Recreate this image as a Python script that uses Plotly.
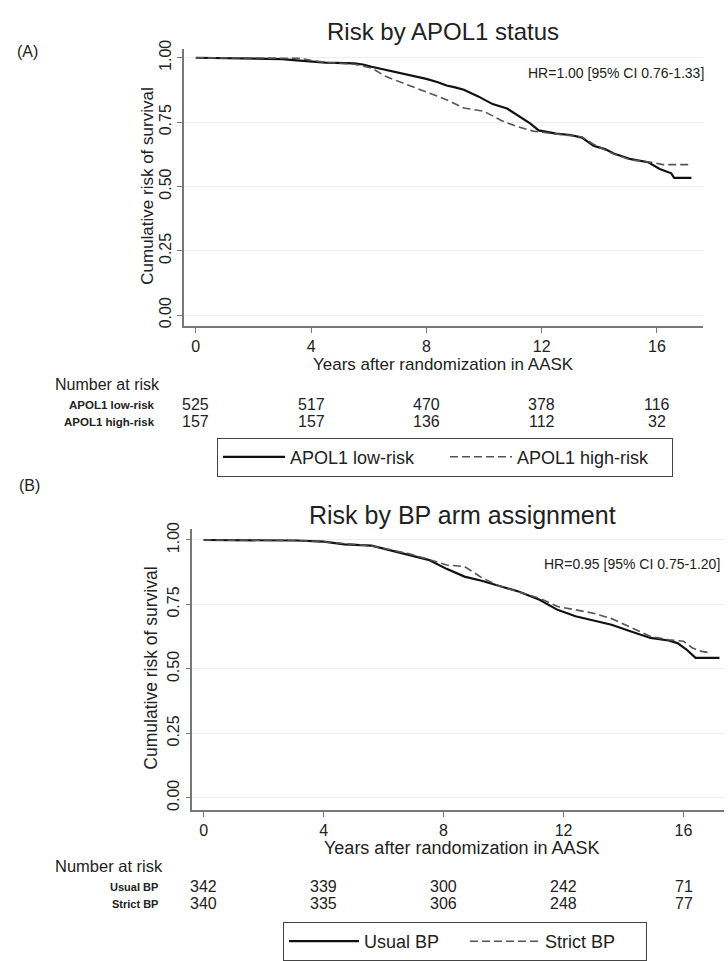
import plotly.graph_objects as go

# ---------------- data ----------------
years_ticks = [0, 4, 8, 12, 16]

# Panel A: APOL1 status
apol_low_t = [0, 1.8, 3.0, 3.5, 4.5, 5.5, 5.8, 6.1, 6.6, 7.2, 7.6, 8.0, 8.4, 8.7, 9.0, 9.3, 9.8,
              10.3, 10.8, 11.3, 11.6, 11.9, 12.5, 13.0, 13.4, 13.8, 14.2, 14.5, 15.1, 15.7, 16.1,
              16.5, 16.6, 17.2]
apol_low_s = [1.0, 0.998, 0.995, 0.99, 0.981, 0.978, 0.974, 0.965, 0.953, 0.937, 0.93, 0.918, 0.905,
              0.892, 0.885, 0.876, 0.85, 0.82, 0.803, 0.767, 0.745, 0.718, 0.705, 0.70, 0.69, 0.658,
              0.645, 0.628, 0.606, 0.594, 0.568, 0.551, 0.533, 0.533]
apol_high_t = [0, 2.0, 3.6, 4.0, 4.5, 5.5, 6.1, 6.6, 7.2, 8.0, 8.7, 9.3, 10.0, 10.6, 11.1, 11.7,
               12.5, 13.4, 13.8, 14.5, 15.1, 15.8, 16.2, 17.2]
apol_high_s = [1.0, 1.0, 0.998, 0.99, 0.982, 0.975, 0.96, 0.927, 0.901, 0.869, 0.837, 0.805, 0.792,
               0.756, 0.735, 0.715, 0.703, 0.692, 0.664, 0.626, 0.603, 0.594, 0.585, 0.585]
apol_low_risk_n = [525, 517, 470, 378, 116]
apol_high_risk_n = [157, 157, 136, 112, 32]

# Panel B: BP arm
usual_t = [0, 3.1, 4.0, 4.7, 5.6, 6.2, 6.8, 7.5, 8.1, 8.7, 9.3, 9.9, 10.5, 11.2, 11.8, 12.4, 13.0,
           13.6, 14.3, 14.9, 15.5, 15.8, 16.1, 16.4, 17.2]
usual_s = [1.0, 0.998, 0.994, 0.983, 0.978, 0.961, 0.945, 0.923, 0.888, 0.858, 0.841, 0.82, 0.80,
           0.768, 0.729, 0.704, 0.687, 0.671, 0.643, 0.62, 0.61, 0.60, 0.575, 0.543, 0.543]
strict_t = [0, 3.0, 4.0, 4.7, 5.6, 6.2, 6.8, 7.5, 8.1, 8.7, 9.3, 9.9, 10.5, 11.2, 11.8, 12.4, 13.0,
            13.6, 14.3, 14.9, 15.5, 16.0, 16.3, 16.6, 16.9]
strict_s = [1.0, 0.998, 0.993, 0.985, 0.977, 0.963, 0.948, 0.925, 0.903, 0.897, 0.852, 0.82, 0.80,
            0.774, 0.742, 0.729, 0.716, 0.695, 0.659, 0.626, 0.613, 0.607, 0.581, 0.568, 0.562]
usual_n = [342, 339, 300, 242, 71]
strict_n = [340, 335, 306, 248, 77]

# ---------------- figure ----------------
W, H = 728, 961
FONT = "Liberation Sans, Arial, sans-serif"


def px(x):
    return x / W


def py(y):
    return 1 - y / H


fig = go.Figure()

solid = dict(color="#111111", width=2.2)
dashed = dict(color="#555555", width=1.6, dash="8px,4px")

fig.add_trace(go.Scatter(x=apol_low_t, y=apol_low_s, mode="lines", line=solid,
                         name="APOL1 low-risk", xaxis="x", yaxis="y", legend="legend"))
fig.add_trace(go.Scatter(x=apol_high_t, y=apol_high_s, mode="lines", line=dashed,
                         name="APOL1 high-risk", xaxis="x", yaxis="y", legend="legend"))
fig.add_trace(go.Scatter(x=usual_t, y=usual_s, mode="lines", line=solid,
                         name="Usual BP", xaxis="x2", yaxis="y2", legend="legend2"))
fig.add_trace(go.Scatter(x=strict_t, y=strict_s, mode="lines", line=dashed,
                         name="Strict BP", xaxis="x2", yaxis="y2", legend="legend2"))

xcommon = dict(tickvals=years_ticks, ticks="outside", ticklen=5, tickcolor="#777",
               showline=True, linecolor="#777", linewidth=1.5, showgrid=False, zeroline=False,
               tickfont=dict(family=FONT, size=16, color="#222"))
ycommon = dict(tickvals=[0, 0.25, 0.5, 0.75, 1.0], tickformat=".2f", tickangle=-90,
               ticks="outside", ticklen=5, tickcolor="#777", showline=True, linecolor="#777",
               linewidth=1.5, showgrid=True, gridcolor="#ececec", gridwidth=1, zeroline=False,
               tickfont=dict(family=FONT, size=16, color="#222"))

fig.update_layout(
    width=W, height=H,
    margin=dict(l=0, r=0, t=0, b=0),
    paper_bgcolor="white", plot_bgcolor="white",
    font=dict(family=FONT, color="#222"),
    xaxis=dict(domain=[px(184), px(703)], range=[-0.41, 17.6], anchor="y", **xcommon),
    yaxis=dict(domain=[py(321.5), py(40)], range=[-0.044, 1.036], anchor="x", **ycommon),
    xaxis2=dict(domain=[px(192.3), px(724)], range=[-0.377, 17.35], anchor="y2", **xcommon),
    yaxis2=dict(domain=[py(811), py(527)], range=[-0.047, 1.041], anchor="x2", **ycommon),
    legend=dict(x=px(217), y=py(434), xanchor="left", yanchor="top", orientation="h",
                bordercolor="#444", borderwidth=1, bgcolor="white",
                font=dict(family=FONT, size=18, color="#222"), itemwidth=62,
                entrywidth=150, itemclick=False),
    legend2=dict(x=px(283), y=py(925), xanchor="left", yanchor="top", orientation="h",
                 bordercolor="#444", borderwidth=1, bgcolor="white",
                 font=dict(family=FONT, size=18, color="#222"), itemwidth=70,
                 entrywidth=96, itemclick=False),
)

ann = []


def text(x, y, s, size, xanchor="center", yanchor="middle", angle=0, xref="paper", color="#222"):
    ann.append(dict(x=x, y=y, xref=xref, yref="paper", text=s, showarrow=False,
                    xanchor=xanchor, yanchor=yanchor, textangle=angle,
                    font=dict(family=FONT, size=size, color=color)))


# Panel A texts
text(px(15), py(43), "(A)", 16, xanchor="left")
text(px(443.5), py(23), "Risk by APOL1 status", 24)
text(px(706), py(65), "HR=1.00 [95% CI 0.76-1.33]", 14, xanchor="right")
text(px(148), py(180), "Cumulative risk of survival", 17, angle=-90)
text(px(443.5), py(360), "Years after randomization in AASK", 17)
text(px(53), py(380), "Number at risk", 16, xanchor="left")
text(px(157), py(401), "<b>APOL1 low-risk</b>", 11.5, xanchor="right")
text(px(157), py(418), "<b>APOL1 high-risk</b>", 11.5, xanchor="right")
for t, a, b in zip(years_ticks, apol_low_risk_n, apol_high_risk_n):
    text(t, py(401), str(a), 16, xref="x")
    text(t, py(418), str(b), 16, xref="x")

# Panel B texts
text(px(17), py(483), "(B)", 16, xanchor="left")
text(px(462), py(512), "Risk by BP arm assignment", 25)
text(px(722), py(562), "HR=0.95 [95% CI 0.75-1.20]", 14, xanchor="right")
text(px(151), py(668), "Cumulative risk of survival", 17.5, angle=-90)
text(px(462), py(850), "Years after randomization in AASK", 18)
text(px(53), py(868), "Number at risk", 16.5, xanchor="left")
text(px(160), py(889), "<b>Usual BP</b>", 11, xanchor="right")
text(px(160), py(906), "<b>Strict BP</b>", 11, xanchor="right")
for t, a, b in zip(years_ticks, usual_n, strict_n):
    text(t, py(889), str(a), 16, xref="x2")
    text(t, py(906), str(b), 16, xref="x2")

fig.update_layout(annotations=ann)

fig.write_html(
    "out.html",
    config={"displayModeBar": False},
    post_script="document.body.style.margin='0';document.body.style.overflow='hidden';",
)
